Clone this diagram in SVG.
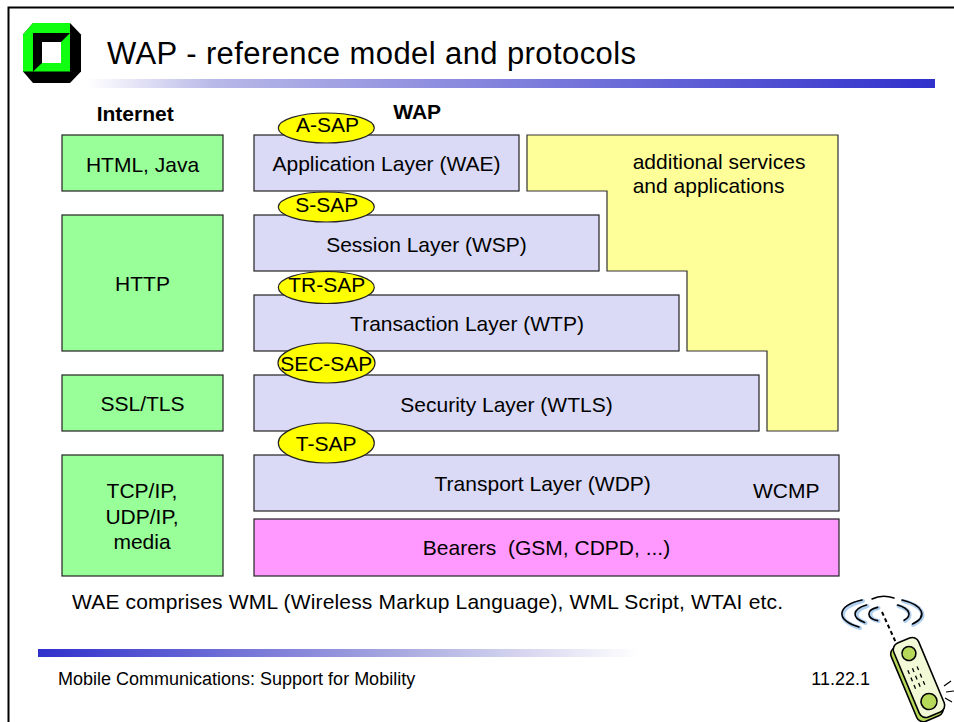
<svg xmlns="http://www.w3.org/2000/svg" width="954" height="722" viewBox="0 0 954 722">
  <style>
    text { font-family: "Liberation Sans", Arial, sans-serif; fill: #000; }
    .lbl { font-size: 21px; }
    .mid { text-anchor: middle; }
    .hdr { font-size: 21px; font-weight: bold; }
    .inet { fill: #99ff99; stroke: #222; stroke-width: 1.2; }
    .wap { fill: #dadaf6; stroke: #222; stroke-width: 1.2; }
    .bear { fill: #ff99ff; stroke: #222; stroke-width: 1.2; }
    .extra { fill: #ffff99; stroke: #333; stroke-width: 1.2; }
    .sap { fill: #ffff00; stroke: #222; stroke-width: 1.2; }
    .foot { font-size: 18px; }
    .wave { fill: none; stroke: #000; stroke-width: 1.6; stroke-linecap: round; }
    .glow { fill: none; stroke: #b0d0f0; stroke-width: 4; stroke-linecap: round; }
  </style>
  <defs>
    <linearGradient id="topBar" x1="0" y1="0" x2="1" y2="0">
      <stop offset="0" stop-color="#ffffff"/>
      <stop offset="0.15" stop-color="#b8b8e8"/>
      <stop offset="1" stop-color="#3030cc"/>
    </linearGradient>
    <linearGradient id="bottomBar" x1="0" y1="0" x2="1" y2="0">
      <stop offset="0" stop-color="#3030cc"/>
      <stop offset="0.6" stop-color="#a8a8e0"/>
      <stop offset="1" stop-color="#ffffff"/>
    </linearGradient>
  </defs>

  <rect width="954" height="722" fill="#ffffff"/>
  <!-- slide frame -->
  <path d="M8.5,722 V7.5 H954" fill="none" stroke="#000" stroke-width="2"/>

  <!-- logo -->
  <g id="logo">
    <polygon points="33,23 70,23 81,34.5 81,71.5 70,83 33,83 23,71.5 23,34.5" fill="#000"/>
    <polygon points="23,71.5 23,34.5 33,23 70,23 70,33 33,33 33,71.5" fill="#11ff11"/>
    <polygon points="33,33 70,33 61,42 42,42 42,63 33,71.5" fill="#000"/>
    <polygon points="70,33 70,71.5 33,71.5 42,63 61,63 61,42" fill="#11ff11"/>
    <rect x="42" y="42" width="19" height="21" fill="#ffffff"/>
  </g>

  <!-- title -->
  <text x="107" y="63.5" font-size="31" textLength="529" lengthAdjust="spacing">WAP - reference model and protocols</text>
  <rect x="88" y="79" width="847" height="9" fill="url(#topBar)"/>

  <!-- column headings -->
  <text class="hdr" x="96.7" y="121">Internet</text>
  <text class="hdr" x="393.3" y="119">WAP</text>

  <!-- internet protocol stack -->
  <g id="html-java">
    <rect class="inet" x="62" y="135" width="161" height="56"/>
    <text class="lbl mid" x="142.5" y="172">HTML, Java</text>
  </g>
  <g id="http">
    <rect class="inet" x="62" y="215" width="161" height="136"/>
    <text class="lbl mid" x="142.5" y="291">HTTP</text>
  </g>
  <g id="ssl-tls">
    <rect class="inet" x="62" y="375" width="161" height="56"/>
    <text class="lbl mid" x="142.5" y="411">SSL/TLS</text>
  </g>
  <g id="tcp-ip">
    <rect class="inet" x="62" y="455" width="161" height="121"/>
    <text class="lbl mid" x="142" y="498">TCP/IP,</text>
    <text class="lbl mid" x="142" y="523.5">UDP/IP,</text>
    <text class="lbl mid" x="142" y="548.5">media</text>
  </g>

  <!-- additional services block -->
  <g id="additional-services">
    <polygon class="extra" points="527,135 838,135 838,431 767,431 767,351 687,351 687,271 607,271 607,191 527,191"/>
    <text class="lbl" x="632.7" y="169.3">additional services</text>
    <text class="lbl" x="632.7" y="193.3">and applications</text>
  </g>

  <!-- WAP layers -->
  <g id="wae">
    <rect class="wap" x="254" y="135" width="265" height="56"/>
    <text class="lbl mid" x="386.5" y="171">Application Layer (WAE)</text>
  </g>
  <g id="wsp">
    <rect class="wap" x="254" y="215" width="345" height="56"/>
    <text class="lbl mid" x="426.5" y="252">Session Layer (WSP)</text>
  </g>
  <g id="wtp">
    <rect class="wap" x="254" y="295" width="425" height="56"/>
    <text class="lbl mid" x="467" y="331">Transaction Layer (WTP)</text>
  </g>
  <g id="wtls">
    <rect class="wap" x="254" y="375" width="505" height="56"/>
    <text class="lbl mid" x="506.5" y="411.5">Security Layer (WTLS)</text>
  </g>
  <g id="wdp">
    <rect class="wap" x="254" y="455" width="585" height="56"/>
    <text class="lbl mid" x="542.7" y="491">Transport Layer (WDP)</text>
    <text class="lbl" x="753" y="498">WCMP</text>
  </g>
  <g id="bearers">
    <rect class="bear" x="254" y="519" width="585" height="57"/>
    <text class="lbl mid" x="546.5" y="555" xml:space="preserve">Bearers  (GSM, CDPD, ...)</text>
  </g>

  <!-- service access points -->
  <g id="a-sap">
    <ellipse class="sap" cx="326.3" cy="128" rx="48" ry="15"/>
    <text class="lbl mid" x="327.5" y="131.7">A-SAP</text>
  </g>
  <g id="s-sap">
    <ellipse class="sap" cx="326.3" cy="207" rx="48" ry="15"/>
    <text class="lbl mid" x="326.7" y="211.7">S-SAP</text>
  </g>
  <g id="tr-sap">
    <ellipse class="sap" cx="326.3" cy="287.5" rx="48" ry="16"/>
    <text class="lbl mid" x="326.7" y="291.7">TR-SAP</text>
  </g>
  <g id="sec-sap">
    <ellipse class="sap" cx="326.5" cy="363" rx="48.5" ry="20"/>
    <text class="lbl mid" x="326.3" y="370.7">SEC-SAP</text>
  </g>
  <g id="t-sap">
    <ellipse class="sap" cx="326.3" cy="443" rx="48" ry="20"/>
    <text class="lbl mid" x="326.2" y="450.7">T-SAP</text>
  </g>

  <text class="lbl" x="72" y="609" textLength="711" lengthAdjust="spacing">WAE comprises WML (Wireless Markup Language), WML Script, WTAI etc.</text>

  <!-- footer -->
  <rect x="38" y="649" width="600" height="8" fill="url(#bottomBar)"/>
  <text class="foot" x="58" y="685">Mobile Communications: Support for Mobility</text>
  <text class="foot" x="870" y="685" text-anchor="end">11.22.1</text>

  <!-- mobile phone clipart -->
  <g id="phone">
    <!-- radio waves around the antenna tip -->
    <path class="glow" d="M863,601 A40,16 0 0,0 860,628"/>
    <path class="wave" d="M862,600 A40,16 0 0,0 859,627"/>
    <path class="glow" d="M903,601 A40,16 0 0,1 913,625"/>
    <path class="wave" d="M902,600 A40,16 0 0,1 912.6,624"/>
    <path class="glow" d="M867.5,606 A27,11 0 0,0 865.6,623"/>
    <path class="wave" d="M866.5,605 A27,11 0 0,0 864.6,622.4"/>
    <path class="glow" d="M898.5,606 A27,11 0 0,1 905,621"/>
    <path class="wave" d="M897.5,605 A27,11 0 0,1 904.1,620.3"/>
    <path class="glow" d="M878.6,608 A13,7 0 0,0 878.6,621"/>
    <path class="wave" d="M877.6,607.4 A13,7 0 0,0 877.6,620.6"/>
    <path class="wave" d="M872,599 Q882,594 894,598"/>
    <!-- antenna -->
    <path d="M882,612 L897,645" fill="none" stroke="#000" stroke-width="2" stroke-dasharray="4 3"/>
    <!-- handset body -->
    <g transform="rotate(-22.7 918 679)">
      <rect x="902" y="641" width="28" height="80" rx="7" fill="#b7d95a" stroke="#000" stroke-width="1.6"/>
      <rect x="906" y="638" width="27" height="80" rx="7" fill="#f2f9d6" stroke="#000" stroke-width="1.6"/>
      <circle cx="919.5" cy="652" r="7" fill="#b7d95a" stroke="#000" stroke-width="1.6"/>
      <circle cx="919.5" cy="704" r="8" fill="#b7d95a" stroke="#000" stroke-width="1.6"/>
      <path d="M912,667 v4 M917,667 v4 M922,667 v4 M912,675 v4 M917,675 v4 M922,675 v4 M912,683 v4 M917,683 v4 M922,683 v4" fill="none" stroke="#000" stroke-width="1.3"/>
    </g>
    <!-- ringing marks -->
    <path d="M944,686 L951,681 M946,692 L954,691 M945,698 L952,702" fill="none" stroke="#000" stroke-width="1.2"/>
  </g>
</svg>
